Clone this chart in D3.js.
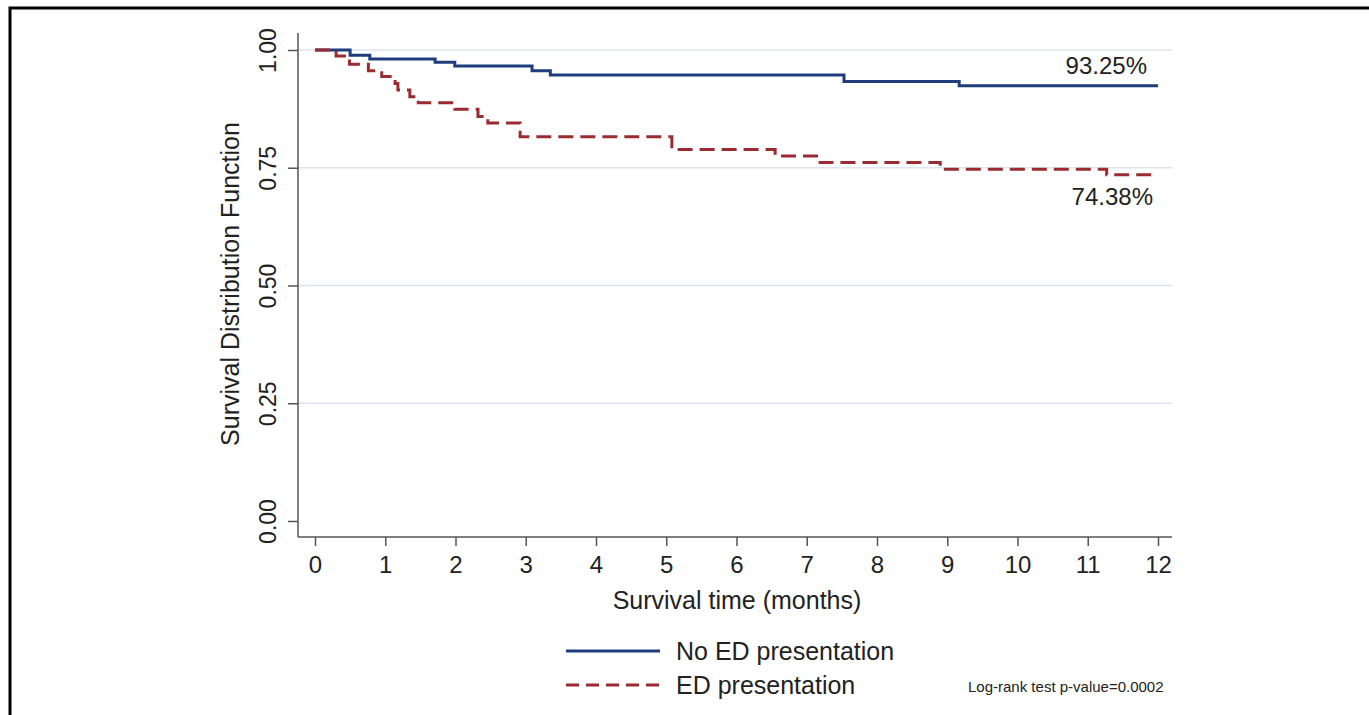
<!DOCTYPE html>
<html>
<head>
<meta charset="utf-8">
<script src="https://cdn.jsdelivr.net/npm/d3@7"></script>
<style>
  body { margin: 0; background: #fff; }
  text { font-family: "Liberation Sans", Arial, sans-serif; fill: #222; }
</style>
</head>
<body>
<div class="km"></div>
<script>
var width = 1369
var height = 715

// Kaplan-Meier step data
var noEdTime = [0, 0.50, 0.78, 1.71, 1.99, 3.09, 3.35, 7.53, 9.17, 12]
var noEdSurv = [1, 0.989, 0.981, 0.974, 0.966, 0.956, 0.947, 0.933, 0.924, 0.924]
var edTime = [0, 0.30, 0.49, 0.76, 0.95, 1.14, 1.18, 1.35, 1.47, 1.99, 2.32, 2.46, 2.92, 5.08, 6.55, 7.19, 8.90, 11.27, 12]
var edSurv = [1, 0.987, 0.970, 0.956, 0.944, 0.929, 0.915, 0.901, 0.888, 0.874, 0.859, 0.845, 0.816, 0.789, 0.775, 0.761, 0.747, 0.735, 0.735]
var xTicks = [0, 1, 2, 3, 4, 5, 6, 7, 8, 9, 10, 11, 12]
var yTicks = [0, 0.25, 0.5, 0.75, 1]
var gridTicks = [0.25, 0.5, 0.75, 1]
var seriesNames = ['No ED presentation', 'ED presentation']
var endLabels = ['93.25%', '74.38%']

var blue = '#1f3c7c'
var red = '#9a2b30'
var axisColor = '#555'

var x = d3.scaleLinear().domain([0, 12]).range([315, 1158])
var y = d3.scaleLinear().domain([0, 1]).range([521, 50])

var svg = d3.select('.km')
  .append('svg')
  .attr('width', width)
  .attr('height', height)

// outer frame
svg.append('rect')
  .attr('x', 10).attr('y', 8)
  .attr('width', 1370).attr('height', 720)
  .attr('fill', 'none')
  .attr('stroke', '#000')
  .attr('stroke-width', 3)

// grid
svg.selectAll('.grid')
  .data(gridTicks)
  .enter().append('line')
  .attr('x1', 298).attr('x2', 1172)
  .attr('y1', d => y(d)).attr('y2', d => y(d))
  .attr('stroke', '#dbe5f1')
  .attr('stroke-width', 1.5)

// y axis
var yAxis = svg.append('g')
  .attr('transform', 'translate(298,0)')
  .call(d3.axisLeft(y).tickValues(yTicks).tickFormat(d3.format('.2f')).tickSize(10).tickSizeOuter(0))
yAxis.select('.domain').attr('d', 'M0,33V537').attr('stroke', axisColor).attr('stroke-width', 1.5)
yAxis.selectAll('.tick line').attr('stroke', axisColor).attr('stroke-width', 1.5)
yAxis.selectAll('.tick text')
  .attr('x', 0).attr('dy', 0)
  .attr('transform', 'translate(-22,0) rotate(-90)')
  .attr('text-anchor', 'middle')
  .style('font-size', '23px')
  .style('font-family', '"Liberation Sans", Arial, sans-serif')
  .attr('fill', '#222')

// x axis
var xAxis = svg.append('g')
  .attr('transform', 'translate(0,537)')
  .call(d3.axisBottom(x).tickValues(xTicks).tickFormat(d3.format('d')).tickSize(9).tickSizeOuter(0))
xAxis.select('.domain').attr('d', 'M298,0H1172').attr('stroke', axisColor).attr('stroke-width', 1.5)
xAxis.selectAll('.tick line').attr('stroke', axisColor).attr('stroke-width', 1.5)
xAxis.selectAll('.tick text')
  .attr('y', 19)
  .style('font-size', '24px')
  .style('font-family', '"Liberation Sans", Arial, sans-serif')
  .attr('fill', '#222')

// axis titles
svg.append('text')
  .attr('x', 737).attr('y', 609)
  .attr('text-anchor', 'middle')
  .style('font-size', '25px')
  .text('Survival time (months)')

svg.append('text')
  .attr('transform', 'translate(239,284) rotate(-90)')
  .attr('text-anchor', 'middle')
  .style('font-size', '25px')
  .text('Survival Distribution Function')

// curves
var step = d3.line()
  .x(d => x(d[0]))
  .y(d => y(d[1]))
  .curve(d3.curveStepAfter)

svg.append('path')
  .datum(d3.zip(noEdTime, noEdSurv))
  .attr('d', step)
  .attr('fill', 'none')
  .attr('stroke', blue)
  .attr('stroke-width', 3)

svg.append('path')
  .datum(d3.zip(edTime, edSurv))
  .attr('d', step)
  .attr('fill', 'none')
  .attr('stroke', red)
  .attr('stroke-width', 3)
  .attr('stroke-dasharray', '15,7')

// end labels
svg.append('text')
  .attr('x', 1147).attr('y', 74)
  .attr('text-anchor', 'end')
  .style('font-size', '24px')
  .text(endLabels[0])

svg.append('text')
  .attr('x', 1153).attr('y', 205)
  .attr('text-anchor', 'end')
  .style('font-size', '24px')
  .text(endLabels[1])

// legend
svg.append('line')
  .attr('x1', 566).attr('x2', 660)
  .attr('y1', 651).attr('y2', 651)
  .attr('stroke', blue).attr('stroke-width', 3)

svg.append('line')
  .attr('x1', 566).attr('x2', 660)
  .attr('y1', 685).attr('y2', 685)
  .attr('stroke', red).attr('stroke-width', 3)
  .attr('stroke-dasharray', '13,7')

svg.append('text')
  .attr('x', 676).attr('y', 660)
  .style('font-size', '25px')
  .text(seriesNames[0])

svg.append('text')
  .attr('x', 676).attr('y', 694)
  .style('font-size', '25px')
  .text(seriesNames[1])

svg.append('text')
  .attr('x', 968).attr('y', 692)
  .style('font-size', '15px')
  .style('font-family', '"Liberation Sans Narrow", "Arial Narrow", sans-serif')
  .text('Log-rank test p-value=0.0002')
</script>
</body>
</html>
